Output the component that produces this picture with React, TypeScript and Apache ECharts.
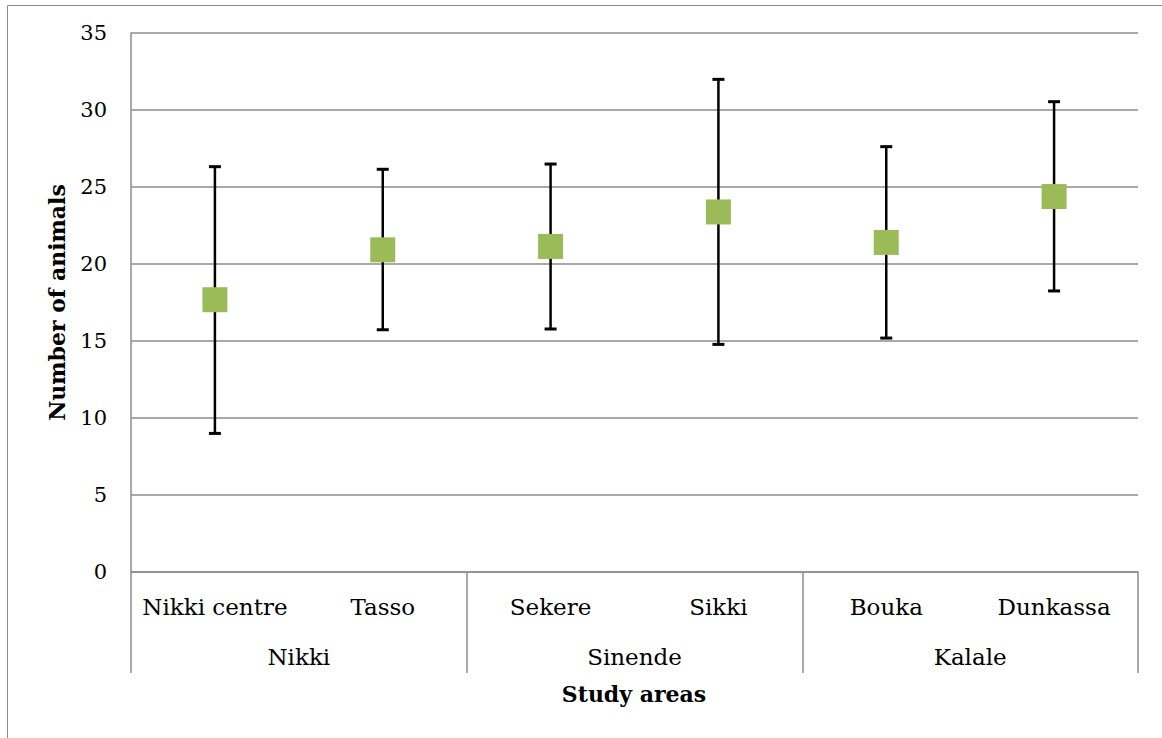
import React, { useEffect, useRef } from "react";
import * as echarts from "echarts";

// Study sites and their parent communes
const sites = ["Nikki centre", "Tasso", "Sekere", "Sikki", "Bouka", "Dunkassa"];
const communes = ["Nikki", "Sinende", "Kalale"];

// Mean number of animals per site, with the lower / upper ends of the error bars
const means = [17.68, 20.92, 21.14, 23.38, 21.4, 24.38];
const lower = [9.0, 15.73, 15.78, 14.78, 15.19, 18.25];
const upper = [26.32, 26.15, 26.49, 31.99, 27.62, 30.54];

const yTicks = { min: 0, max: 35, interval: 5 };

const FONT = "DejaVu Serif";
const GRID_GRAY = "#8c8c8c";

export default function App() {
  const ref = useRef<HTMLDivElement>(null);

  useEffect(() => {
    if (!ref.current) return;
    const chart = echarts.init(ref.current, undefined, { renderer: "svg" });

    const errorData = sites.map((_, i) => [i, lower[i], upper[i]]);

    chart.setOption({
      animation: false,
      backgroundColor: "#ffffff",
      textStyle: { fontFamily: FONT, color: "#000" },
      grid: { left: 131, right: 24, top: 33, bottom: 166, containLabel: false },
      xAxis: [
        {
          type: "category",
          data: sites,
          position: "bottom",
          axisLine: { show: true, lineStyle: { color: GRID_GRAY, width: 1.5 } },
          axisTick: { show: false },
          axisLabel: { fontFamily: FONT, fontSize: 23, color: "#000", margin: 23, interval: 0 },
        },
        {
          type: "category",
          data: communes,
          position: "bottom",
          axisLine: { show: false },
          axisTick: { show: true, length: 101, lineStyle: { color: GRID_GRAY, width: 1.5 } },
          axisLabel: { fontFamily: FONT, fontSize: 23, color: "#000", margin: 73, interval: 0 },
        },
      ],
      yAxis: {
        type: "value",
        min: yTicks.min,
        max: yTicks.max,
        interval: yTicks.interval,
        axisLine: { show: true, lineStyle: { color: GRID_GRAY, width: 1.5 } },
        axisTick: { show: false },
        axisLabel: { fontFamily: FONT, fontSize: 21, color: "#000", margin: 24 },
        splitLine: { show: true, lineStyle: { color: GRID_GRAY, width: 1.5 } },
        name: "Number of animals",
        nameLocation: "middle",
        nameGap: 63,
        nameTextStyle: { fontFamily: FONT, fontSize: 22, fontWeight: "bold", color: "#000" },
      },
      graphic: [
        {
          type: "rect",
          shape: { x: 7.5, y: 5.5, width: 1300, height: 900 },
          style: { fill: "none", stroke: "#8c8c8c", lineWidth: 1 },
          silent: true,
          z: -10,
        },
        {
          type: "text",
          x: 634,
          y: 694,
          style: {
            text: "Study areas",
            font: `bold 22px "${FONT}"`,
            fill: "#000",
            textAlign: "center",
            textVerticalAlign: "middle",
          },
        },
      ],
      series: [
        {
          type: "custom",
          xAxisIndex: 0,
          data: errorData,
          z: 2,
          renderItem: (params: any, api: any) => {
            const x = api.value(0);
            const lo = api.coord([x, api.value(1)]);
            const hi = api.coord([x, api.value(2)]);
            const cap = 6;
            const style = { stroke: "#000", lineWidth: 2.5 };
            const capStyle = { stroke: "#000", lineWidth: 3 };
            return {
              type: "group",
              children: [
                { type: "line", shape: { x1: hi[0], y1: hi[1], x2: lo[0], y2: lo[1] }, style },
                { type: "line", shape: { x1: hi[0] - cap, y1: hi[1], x2: hi[0] + cap, y2: hi[1] }, style: capStyle },
                { type: "line", shape: { x1: lo[0] - cap, y1: lo[1], x2: lo[0] + cap, y2: lo[1] }, style: capStyle },
              ],
            };
          },
        },
        {
          type: "scatter",
          xAxisIndex: 0,
          data: means,
          symbol: "rect",
          symbolSize: 25,
          itemStyle: { color: "#9BBB59", opacity: 1 },
          z: 3,
        },
      ],
    });

    return () => chart.dispose();
  }, []);

  return (
    <div
      ref={ref}
      style={{ position: "absolute", left: 0, top: 0, width: 1162, height: 738 }}
    />
  );
}
